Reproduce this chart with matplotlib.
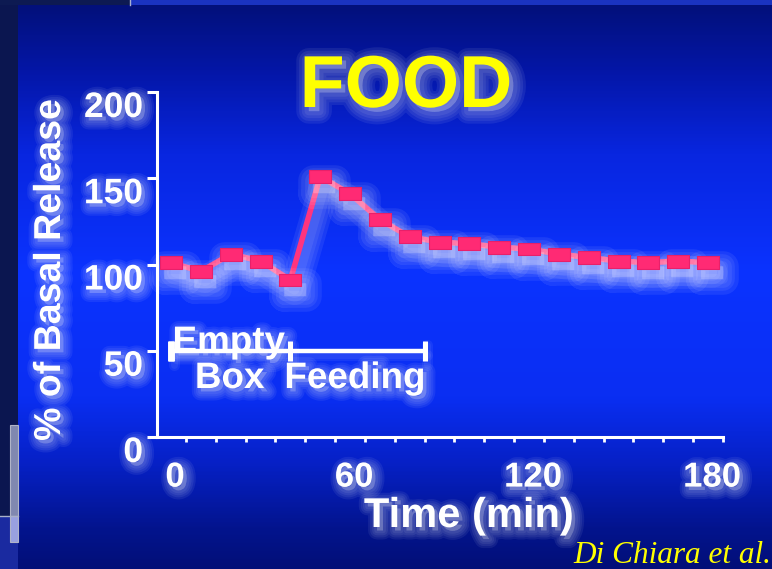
import numpy as np
import matplotlib
matplotlib.use("Agg")
import matplotlib.pyplot as plt
import matplotlib.patheffects as pe
from matplotlib.colors import LinearSegmentedColormap
from matplotlib.transforms import ScaledTranslation

plt.rcParams['font.family'] = ['Liberation Sans', 'DejaVu Sans']

# data (time in min, % of basal release)
time_min = [0, 10, 20, 30, 40, 50, 60, 70, 80, 90, 100, 110, 120, 130, 140, 150, 160, 170, 180]
release = [101, 96, 106, 102, 91, 151, 141, 126, 116, 113, 112, 110, 109, 106, 104, 102, 101, 102, 101]
x_ticks = [0, 60, 120, 180]
y_ticks = [0, 50, 100, 150, 200]
bracket_t = [0, 40, 85]
bracket_y = 50


class Glow(pe.Stroke):
    # stroke that fills white instead of the artist colour
    def draw_path(self, renderer, gc, tpath, affine, rgbFace):
        face = (1, 1, 1) if rgbFace is not None else None
        super().draw_path(renderer, gc, tpath, affine, face)


def glow(offset=(2.5, -2.5), widths=(13, 10, 7, 4), alpha=0.065):
    fx = [Glow(offset=offset, linewidth=w, foreground='white', alpha=alpha,
               joinstyle='round', capstyle='round') for w in widths]
    return fx + [pe.Normal()]


fig = plt.figure(figsize=(7.72, 5.69), dpi=100)

######
# background
######
bg = fig.add_axes([0, 0, 1, 1], zorder=-10)
bg.set_axis_off()
cmap = LinearSegmentedColormap.from_list('slide', [
    (0.0, '#021078'), (0.12, '#0416a6'), (0.27, '#0826e0'), (0.48, '#0b33ff'),
    (0.70, '#0a2ef2'), (0.82, '#0620c4'), (0.93, '#03148e'), (1.0, '#020f78')])
grad = np.linspace(0, 1, 400).reshape(-1, 1)
bg.imshow(grad, aspect='auto', cmap=cmap, extent=[0, 772, 569, 0])
bg.set_xlim(0, 772)
bg.set_ylim(569, 0)
# edges of the neighbouring slide
bg.add_patch(plt.Rectangle((0, 0), 18, 569, color='#0b1650', lw=0))
bg.add_patch(plt.Rectangle((0, 516), 18, 53, color='#1a2aa0', lw=0))
bg.add_patch(plt.Rectangle((0, 0), 772, 5, color='#0d1a52', lw=0))
bg.add_patch(plt.Rectangle((130, 0), 642, 5, color='#1a33c0', lw=0))
bg.plot([130, 130], [0, 5], color='#a8b0d0', lw=1)
bg.add_patch(plt.Rectangle((10, 425), 8, 91, facecolor='#8088b0', edgecolor='#b0b4c8', lw=0.8))
bg.add_patch(plt.Rectangle((10, 516), 8, 26, facecolor='#98a0e0', edgecolor='#b0b4c8', lw=0.8))
bg.plot([0, 18], [516, 516], color='#a8b0c8', lw=1)

######
# chart
######
ax = fig.add_axes([157/772, 1 - 437/569, (723 - 157)/772, (437 - 92)/569])
ax.set_facecolor('none')
ax.set_xlim(-4.7, 184.3)
ax.set_ylim(0, 200)

for s in ['top', 'right']:
    ax.spines[s].set_visible(False)
for s in ['left', 'bottom']:
    ax.spines[s].set_color('white')
    ax.spines[s].set_linewidth(2.2)

ax.set_yticks(y_ticks)
ax.tick_params(axis='y', colors='white', length=7, width=2.2, pad=3,
               labelsize=25.5)
ax.set_xticks(x_ticks)
ax.set_xticks(np.arange(5, 186, 10), minor=True)
ax.tick_params(axis='x', which='major', colors='white', length=0, pad=17,
               labelsize=25)
ax.tick_params(axis='x', which='minor', colors='white', length=3.5, width=2)

for lab in ax.get_yticklabels():
    lab.set_fontweight('bold')
    lab.set_transform(lab.get_transform() + ScaledTranslation(0, -0.12, fig.dpi_scale_trans))
    lab.set_path_effects(glow())
for lab in ax.get_xticklabels():
    lab.set_fontweight('bold')
    lab.set_transform(lab.get_transform() + ScaledTranslation(0.04, 0, fig.dpi_scale_trans))
    lab.set_path_effects(glow())

rect = [(-1, -0.59), (1, -0.59), (1, 0.59), (-1, 0.59), (-1, -0.59)]
ax.plot(time_min, release, color='#ff347e', lw=4, marker=rect, ms=15.8,
        mfc='#ff2a74', mec='#e8206a', mew=0.8, clip_on=False,
        path_effects=glow(offset=(3, -7), widths=(22, 17, 12, 7), alpha=0.07))

# Empty box / feeding bracket
ax.plot(bracket_t, [bracket_y]*3, color='white', lw=3.2, marker='|', ms=14.4,
        mew=3.6, path_effects=glow(offset=(2, -3), widths=(8, 5), alpha=0.06))
ax.plot(bracket_t[:1], [bracket_y], color='white', marker='|', ms=14.4, mew=5)

lbl = dict(color='white', fontsize=26.5, fontweight='bold', ha='left', va='baseline',
           path_effects=glow())
ax.text(0.5, 49.3, 'Empty', **lbl)
ax.text(8, 28.4, 'Box', **lbl)
ax.text(38, 28.4, 'Feeding', **lbl)

######
# titles
######
fig.text(406/772, 1 - 107/569, 'FOOD', color='#ffff00', fontsize=53,
         fontweight='bold', ha='center', va='baseline',
         path_effects=glow(offset=(3, -3), widths=(18, 14, 10, 6), alpha=0.07))
fig.text(469/772, 1 - 527/569, 'Time (min)', color='white', fontsize=30,
         fontweight='bold', ha='center', va='baseline', path_effects=glow())
fig.text(50/772, 1 - 270/569, '% of Basal Release', color='white', fontsize=27,
         fontweight='bold', ha='center', va='center', rotation=90,
         path_effects=glow())
fig.text(771/772, 1 - 563/569, 'Di Chiara et al.', color='#ffff00', fontsize=22.5,
         style='italic', family=['Liberation Serif', 'DejaVu Serif'],
         ha='right', va='baseline')

fig.savefig('out.png', dpi=100)
